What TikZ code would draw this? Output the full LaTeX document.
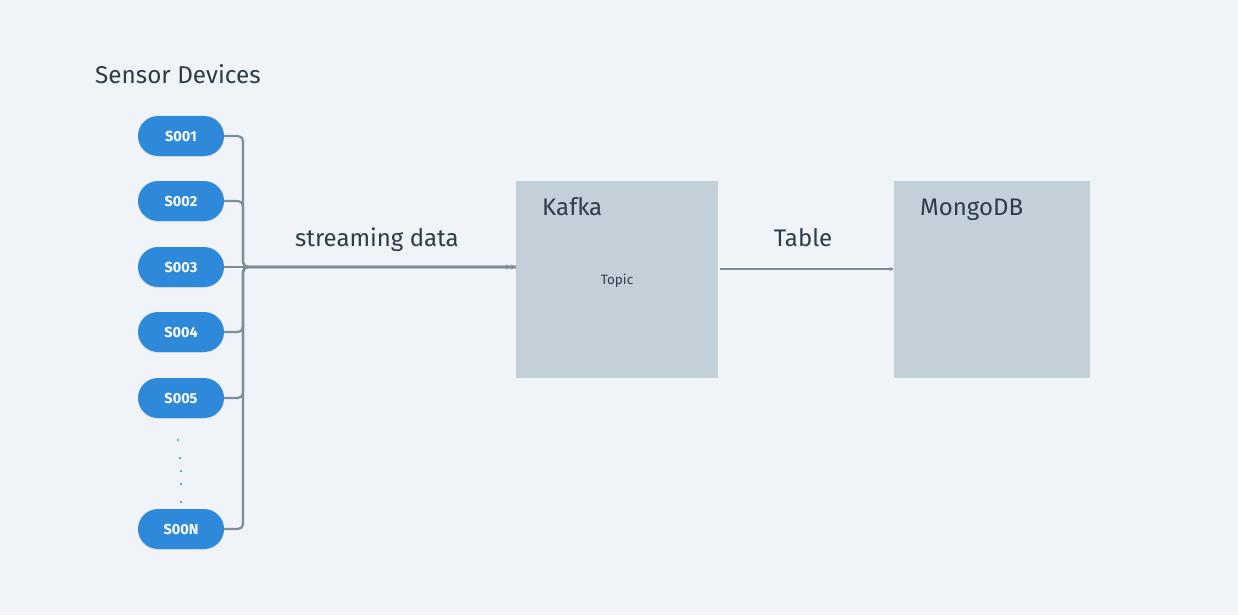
\documentclass[tikz,border=0pt]{standalone}
\usepackage{fontspec}
\setmainfont{Fira Sans}
\usetikzlibrary{arrows.meta,shadows}
\definecolor{bg}{HTML}{F0F4F8}
\definecolor{pill}{HTML}{2E89DB}
\definecolor{boxc}{HTML}{C3D0DA}
\definecolor{linec}{HTML}{7F8C99}
\definecolor{txt}{HTML}{2D3B4A}
\tikzset{
  sensor/.style={draw=none, fill=pill, rounded corners=20pt, minimum width=86pt, minimum height=40pt,
    text=white, font=\fontsize{14.5}{16}\selectfont\bfseries, inner sep=0pt,
    drop shadow={opacity=0.12, shadow xshift=0pt, shadow yshift=-1pt}},
  store/.style={draw=none, fill=boxc, minimum width=202pt, minimum height=197pt, inner sep=0pt},
  conn/.style={draw=linec, line width=2.2pt, rounded corners=5pt},
  lbl/.style={text=txt, inner sep=0pt, anchor=base},
  dotc/.style={fill=pill, circle, inner sep=0pt, minimum size=2.2pt},
}
\begin{document}
\begin{tikzpicture}[x=1pt,y=-1pt]
\fill[bg] (0,0) rectangle (1238,615);
\useasboundingbox (0,0) rectangle (1238,615);
\node[lbl, anchor=base west, font=\fontsize{24.3}{28}\selectfont] (title) at (95,84) {Sensor Devices};
\node[sensor] (s1) at (181,136) {S001};
\node[sensor] (s2) at (181,201) {S002};
\node[sensor] (s3) at (181,267) {S003};
\node[sensor] (s4) at (181,332) {S004};
\node[sensor] (s5) at (181,398) {S005};
\node[sensor] (sn) at (181,529) {S00N};
\node[dotc] (d1) at (178,440) {};
\node[dotc] (d2) at (180,458) {};
\node[dotc] (d3) at (181,471) {};
\node[dotc] (d4) at (181,484) {};
\node[dotc] (d5) at (181,502) {};
\node[store, minimum width=202pt] (kafka) at (617,279.5) {};
\node[store, minimum width=196pt] (mongo) at (992,279.5) {};
\node[lbl, anchor=base west, font=\fontsize{24}{28}\selectfont] (kl) at (542,215) {Kafka};
\node[lbl, anchor=base west, font=\fontsize{24}{28}\selectfont] (ml) at (920,215) {MongoDB};
\node[lbl, font=\fontsize{13.5}{16}\selectfont] (topic) at (617,284) {Topic};
\node[lbl, font=\fontsize{24}{28}\selectfont] (sd) at (377,246) {streaming data};
\node[lbl, font=\fontsize{24}{28}\selectfont] (tb) at (803,246) {Table};
\coordinate (j) at (243,267);
\foreach \s in {s1,s2,s4,s5,sn}{
  \draw[conn] (\s.east) -| (j) -- (kafka.west |- j);
}
\draw[conn, -{Stealth[length=5pt,width=5pt]Stealth[length=5pt,width=5pt]}] (s3.east) -- (kafka.west |- j);
\draw[draw=linec, line width=1.4pt, -{Stealth[length=4pt,width=4pt]}] (kafka.east |- 0,269) ++(2,0) coordinate (a0) -- (mongo.west |- a0);
\end{tikzpicture}
\end{document}
